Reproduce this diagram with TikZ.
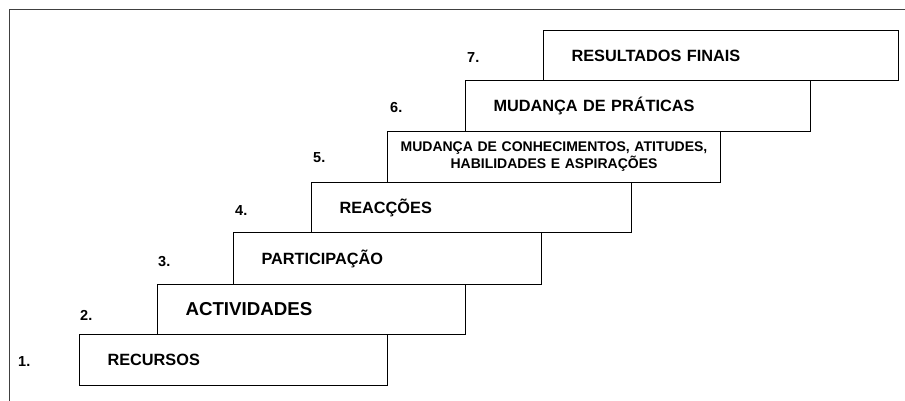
\documentclass[tikz,border=0pt]{standalone}
\usepackage{fontspec}
\setmainfont{Liberation Sans}
\tikzset{
  degrau/.style={draw, line width=1pt, anchor=north west, align=left,
    inner xsep=28pt, inner ysep=0pt,
    font=\bfseries\fontsize{16.3}{19}\selectfont},
  num/.style={anchor=west, inner sep=0pt, font=\bfseries\fontsize{14.5}{16}\selectfont},
}
\begin{document}
\begin{tikzpicture}[x=1pt, y=-1pt]
\useasboundingbox (0,0) rectangle (905,401);
\draw[line width=1.2pt, black!75] (9.5,401) -- (9.5,9.5) -- (905,9.5);
% degraus
\node[degrau, text width=252pt, minimum height=51pt] (recursos) at (79,334) {RECURSOS};
\node[degrau, text width=252pt, minimum height=50pt, font=\bfseries\fontsize{18.7}{21}\selectfont] (actividades) at (157,284) {ACTIVIDADES};
\node[degrau, text width=252pt, minimum height=52pt] (participacao) at (233,232) {PARTICIPAÇÃO};
\node[degrau, text width=264pt, minimum height=50pt] (reaccoes) at (311,182) {REACÇÕES};
\node[degrau, text width=317pt, minimum height=51pt, align=center, inner xsep=8pt,
      font=\bfseries\fontsize{14}{17}\selectfont] (conhecimentos) at (387,131)
      {MUDANÇA DE CONHECIMENTOS, ATITUDES,\\HABILIDADES E ASPIRAÇÕES};
\node[degrau, text width=289pt, minimum height=51pt] (praticas) at (465,80) {MUDANÇA DE PRÁTICAS};
\node[degrau, text width=299pt, minimum height=50pt] (resultados) at (543,30) {RESULTADOS FINAIS};
% numeros
\foreach \n/\x/\y in {1/18/362, 2/80/315, 3/158/262, 4/235/211, 5/313/158, 6/390/108, 7/467/58}
  \node[num] (n\n) at (\x,\y) {\n.};
\end{tikzpicture}
\end{document}
